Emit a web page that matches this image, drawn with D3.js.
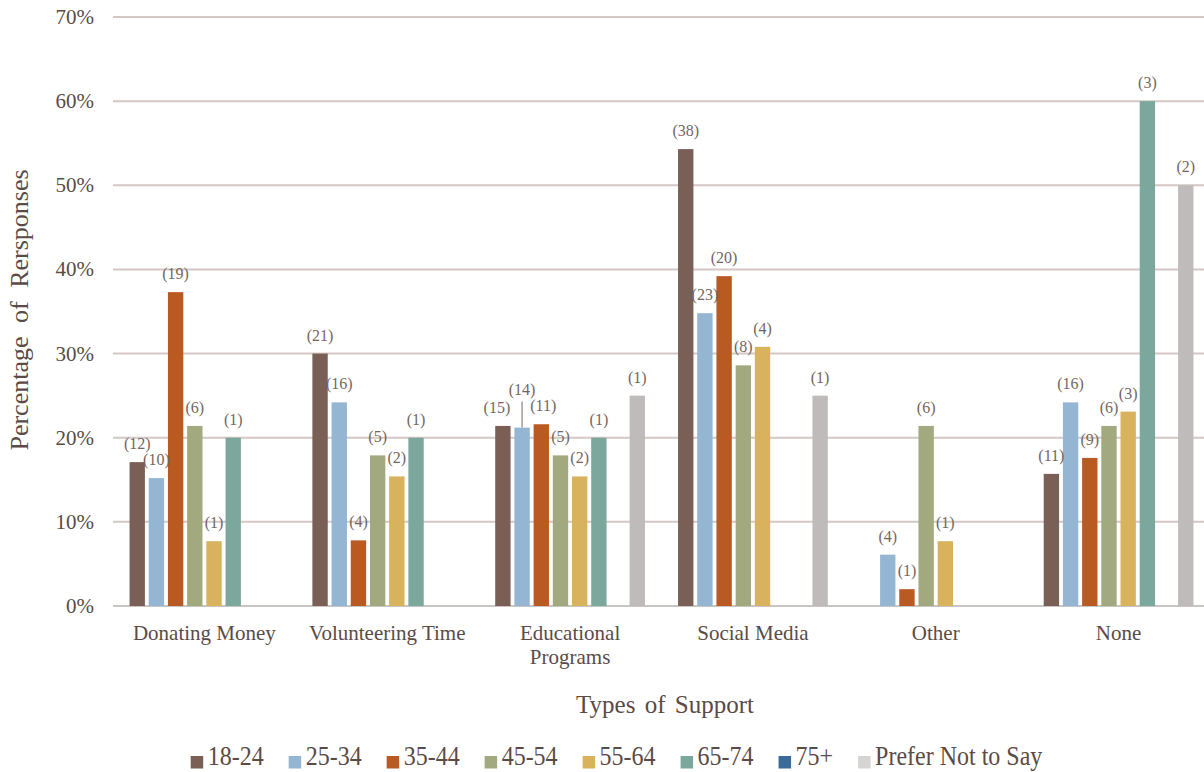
<!DOCTYPE html>
<html>
<head>
<meta charset="utf-8">
<script src="https://cdn.jsdelivr.net/npm/d3@7"></script>
<style>
  body { margin: 0; background: #fff; }
</style>
</head>
<body>
<div id="viz-container"></div>
<script>
// categories on the x axis
const categories = ["Donating Money", "Volunteering Time", "Educational Programs", "Social Media", "Other", "None"];
// age groups (one bar per group in each category)
const ageGroups = ["18-24", "25-34", "35-44", "45-54", "55-64", "65-74", "75+", "Prefer Not to Say"];
const ageColors = ["#795f55", "#94b6d2", "#ba5a23", "#a3a97e", "#d8b25d", "#7ba79c", "#3a6b98", "#c0bbbb"];

// percentage of responses, one array per age group, in category order
const pct1824 = [17.1, 30.0, 21.4, 54.3, 0, 15.7];
const pct2534 = [15.2, 24.2, 21.2, 34.8, 6.1, 24.2];
const pct3544 = [37.3, 7.8, 21.6, 39.2, 2.0, 17.6];
const pct4554 = [21.4, 17.9, 17.9, 28.6, 21.4, 21.4];
const pct5564 = [7.7, 15.4, 15.4, 30.8, 7.7, 23.1];
const pct6574 = [20, 20, 20, 0, 0, 60];
const pct75 = [0, 0, 0, 0, 0, 0];
const pctPrefer = [0, 0, 25, 25, 0, 50];

// response counts shown in brackets (null = no label)
const n1824 = [12, 21, 15, 38, null, 11];
const n2534 = [10, 16, 14, 23, 4, 16];
const n3544 = [19, 4, 11, 20, 1, 9];
const n4554 = [6, 5, 5, 8, 6, 6];
const n5564 = [1, 2, 2, 4, 1, 3];
const n6574 = [1, 1, 1, null, null, 3];
const n75 = [null, null, null, null, null, null];
const nPrefer = [null, null, 1, 1, null, 2];

const yTicks = [0, 10, 20, 30, 40, 50, 60, 70];

const pctSeries = [pct1824, pct2534, pct3544, pct4554, pct5564, pct6574, pct75, pctPrefer];
const countSeries = [n1824, n2534, n3544, n4554, n5564, n6574, n75, nPrefer];

const W = 1204, H = 772;
const textColor = "#5b4b46";
const labelColor = "#766661";
const serif = "'Liberation Serif', 'Times New Roman', 'DejaVu Serif', serif";

let viz = d3.select("#viz-container")
  .append("svg")
    .attr("width", W)
    .attr("height", H)
    .attr("font-family", serif)
    .style("font-family", serif);

viz.append("rect").attr("width", W).attr("height", H).attr("fill", "#fff");

let x0 = d3.scaleBand()
  .domain(categories)
  .range([113, 1210])
  .paddingInner(0.16)
  .paddingOuter(0.08);

let x1 = d3.scaleBand()
  .domain(ageGroups)
  .range([0, x0.bandwidth()])
  .paddingInner(0.2)
  .paddingOuter(0.1);

let y = d3.scaleLinear()
  .domain([0, 70])
  .range([606, 17]);

let color = d3.scaleOrdinal().domain(ageGroups).range(ageColors);

// gridlines
viz.selectAll(".grid").data(yTicks).enter()
  .append("line")
    .attr("class", "grid")
    .attr("x1", 113)
    .attr("x2", W)
    .attr("y1", d => y(d))
    .attr("y2", d => y(d))
    .attr("stroke", d => d == 0 ? "#c9c5c3" : "#d3c8c4")
    .attr("stroke-width", 2);

// y tick labels
viz.selectAll(".ytick").data(yTicks).enter()
  .append("text")
    .attr("class", "ytick")
    .attr("x", 94)
    .attr("y", d => y(d))
    .attr("dy", "0.33em")
    .attr("text-anchor", "end")
    .attr("font-size", 21)
    .attr("fill", textColor)
    .text(d => d + "%");

// flatten to bar records
let bars = [];
categories.forEach((c, ci) => {
  ageGroups.forEach((g, gi) => {
    bars.push({ cat: c, group: g, value: pctSeries[gi][ci], count: countSeries[gi][ci] });
  });
});

viz.selectAll(".bar").data(bars.filter(d => d.value > 0)).enter()
  .append("rect")
    .attr("class", "bar")
    .attr("x", d => x0(d.cat) + x1(d.group))
    .attr("y", d => y(d.value))
    .attr("width", x1.bandwidth())
    .attr("height", d => y(0) - y(d.value))
    .attr("fill", d => color(d.group));

// small manual nudges for crowded labels
function nudge(d) {
  if (d.cat == "Educational Programs" && d.group == "18-24") return { dx: -6, dy: 0 };
  if (d.cat == "Educational Programs" && d.group == "35-44") return { dx: 2, dy: 0 };
  if (d.cat == "Educational Programs" && d.group == "25-34") return { dx: 0, dy: -20, leader: true };
  return { dx: 0, dy: 0 };
}

let labelled = bars.filter(d => d.count != null);

viz.selectAll(".leader").data(labelled.filter(d => nudge(d).leader)).enter()
  .append("line")
    .attr("class", "leader")
    .attr("x1", d => x0(d.cat) + x1(d.group) + x1.bandwidth() / 2)
    .attr("x2", d => x0(d.cat) + x1(d.group) + x1.bandwidth() / 2)
    .attr("y1", d => y(d.value))
    .attr("y2", d => y(d.value) - 26)
    .attr("stroke", "#a39a98")
    .attr("stroke-width", 1.5);

viz.selectAll(".vlabel").data(labelled).enter()
  .append("text")
    .attr("class", "vlabel")
    .attr("x", d => x0(d.cat) + x1(d.group) + x1.bandwidth() / 2 + nudge(d).dx)
    .attr("y", d => y(d.value) - 13 + nudge(d).dy)
    .attr("text-anchor", "middle")
    .attr("font-size", 16)
    .attr("fill", labelColor)
    .text(d => "(" + d.count + ")");

// category labels, wrapped when wider than a band
viz.selectAll(".xlabel").data(categories).enter()
  .append("text")
    .attr("class", "xlabel")
    .attr("x", d => x0(d) + x0.bandwidth() / 2)
    .attr("y", 640)
    .attr("text-anchor", "middle")
    .attr("font-size", 21)
    .attr("fill", textColor)
    .each(function(d) {
      let t = d3.select(this);
      t.text(d);
      if (this.getComputedTextLength() > x0.step() - 5) {
        let words = d.split(" ");
        t.text(null);
        words.forEach((w, i) => {
          t.append("tspan")
            .attr("x", x0(d) + x0.bandwidth() / 2)
            .attr("dy", i == 0 ? 0 : 24)
            .text(w);
        });
      }
    });

// axis titles
viz.append("text")
  .attr("x", 665)
  .attr("y", 713)
  .attr("text-anchor", "middle")
  .attr("font-size", 25)
  .attr("word-spacing", 3)
  .attr("fill", textColor)
  .text("Types of Support");

viz.append("text")
  .attr("transform", "translate(28,310) rotate(-90)")
  .attr("text-anchor", "middle")
  .attr("font-size", 26)
  .attr("word-spacing", 7)
  .attr("fill", textColor)
  .text("Percentage of Rersponses");

// legend
let lx = 190.7;
ageGroups.forEach((g, i) => {
  viz.append("rect")
    .attr("x", lx)
    .attr("y", 756)
    .attr("width", 12.5)
    .attr("height", 12.5)
    .attr("fill", g == "Prefer Not to Say" ? "#d6d3d3" : color(g));
  let t = viz.append("text")
    .attr("transform", "translate(" + (lx + 17) + ",765) scale(1,1.1)")
    .attr("font-size", 24)
    .attr("fill", textColor)
    .text(g);
  lx += 17 + t.node().getComputedTextLength() + 25;
});
</script>
</body>
</html>
